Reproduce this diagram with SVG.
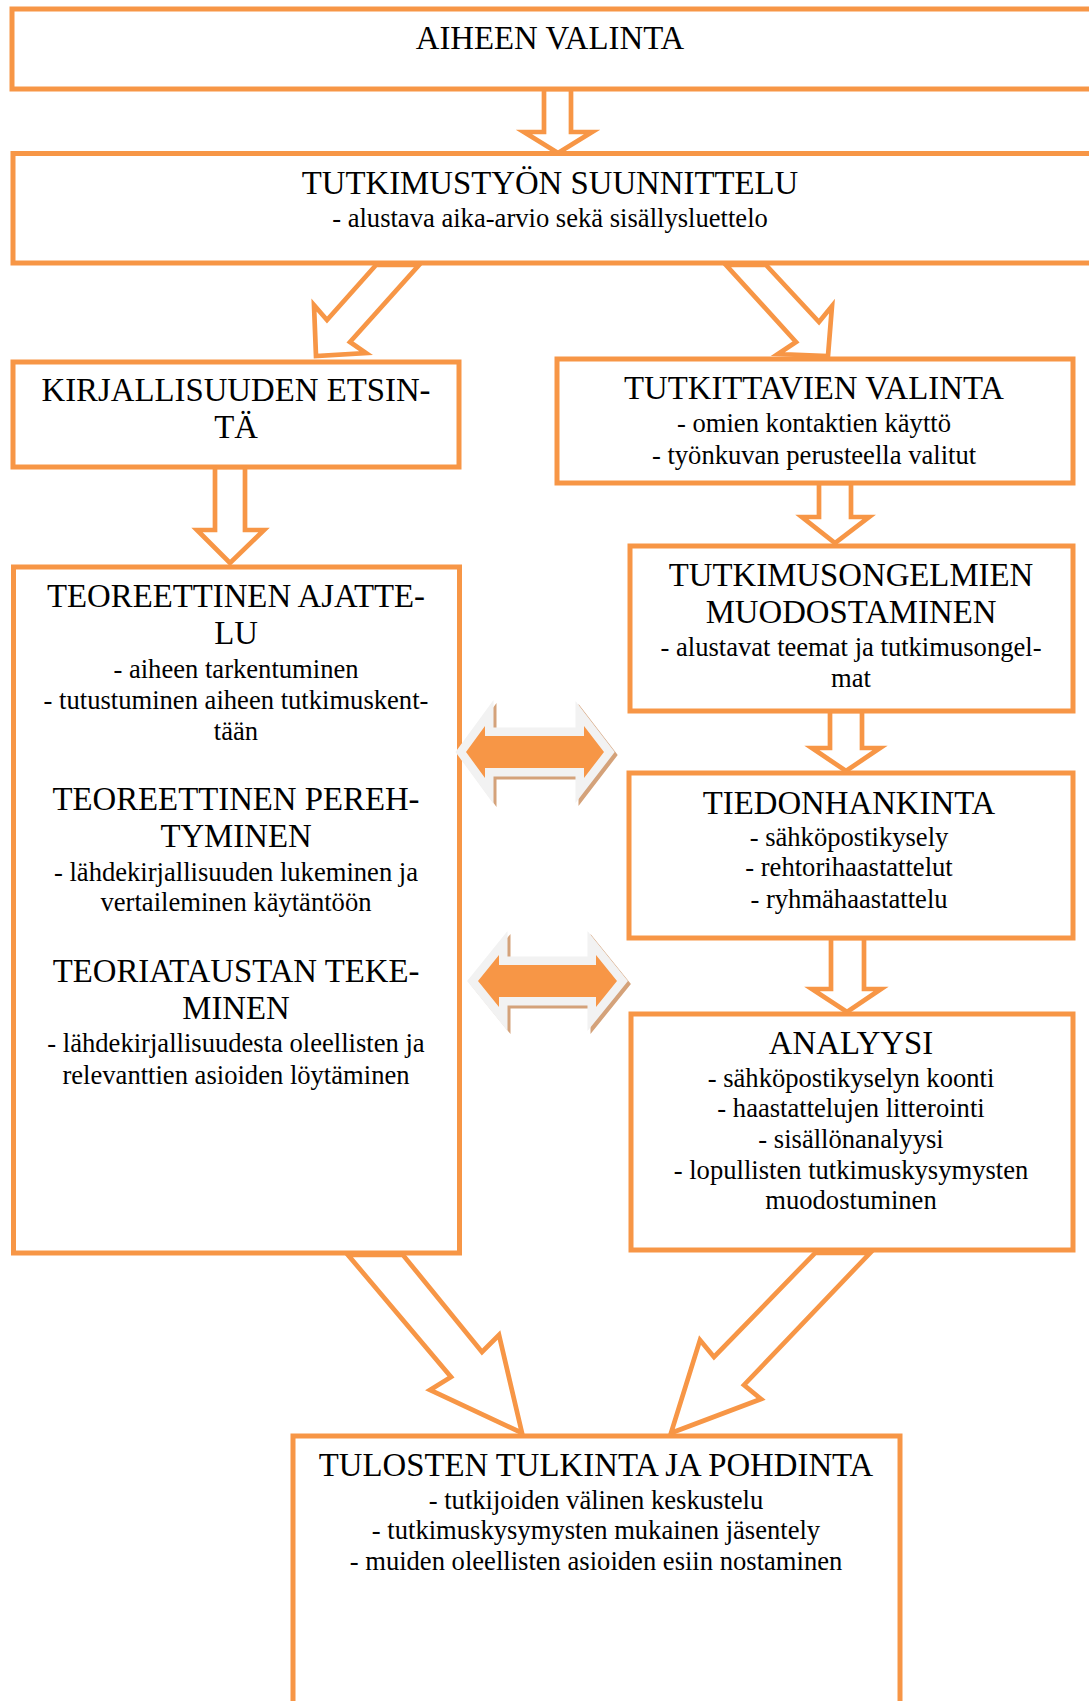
<svg xmlns="http://www.w3.org/2000/svg" width="1089" height="1701" viewBox="0 0 1089 1701">
<style>
.box{fill:#fff;stroke:#F79646;stroke-width:5}
.arr{fill:#fff;stroke:#F79646;stroke-width:4.7;stroke-linejoin:miter}
.dbl{fill:#F79646;stroke:#F2F2F2;stroke-width:17;paint-order:stroke;stroke-linejoin:miter}
.sh{fill:#D4A27A;stroke:#D4A27A;stroke-width:17;stroke-linejoin:miter}
text{font-family:"Liberation Serif","Times New Roman",serif;fill:#000;text-anchor:middle}
.h{font-size:32.8px}
.s{font-size:26.6px}
</style>
<rect width="1089" height="1701" fill="#fff"/>
<g id="connectors">
<polygon class="arr" points="544,89 571,89 571,132 592,132 558,153 524,132 544,132"/>
<polygon class="arr" points="419,265 376,265 327,320 314,305 316,356 366,353 350,342"/>
<polygon class="arr" points="726,265 766,265 819,322 832,306 828,356 778,354 796,342"/>
<polygon class="arr" points="215,467 245,467 245,530 264,530 230,563 197,530 215,530"/>
<polygon class="arr" points="819,483 851,483 851,517 869,517 835,543 802,517 819,517"/>
<polygon class="arr" points="830,711 862,711 862,748 880,748 846,771 812,748 830,748"/>
<polygon class="arr" points="831,938 864,938 864,989 881,989 847,1012 812,989 831,989"/>
<polygon class="arr" points="348,1255 403,1255 482,1352 499,1335 522,1433 430,1390 451,1377"/>
<polygon class="arr" points="870,1253 815,1253 714,1357 700,1340 671,1433 761,1399 744,1385"/>
</g>
<g id="n1"><rect class="box" x="12" y="9" width="1090" height="80"/>
<text class="h" x="550" y="49">AIHEEN VALINTA</text></g>
<g id="n2"><rect class="box" x="13" y="153.5" width="1090" height="109.5"/>
<text class="h" x="550" y="194">TUTKIMUSTYÖN SUUNNITTELU</text>
<text class="s" x="550" y="227">- alustava aika-arvio sekä sisällysluettelo</text></g>
<g id="n3"><rect class="box" x="13" y="362" width="446" height="105"/>
<text class="h" x="236" y="401">KIRJALLISUUDEN ETSIN-</text>
<text class="h" x="236" y="438">TÄ</text></g>
<g id="n4"><rect class="box" x="557" y="359" width="516" height="124"/>
<text class="h" x="814" y="399">TUTKITTAVIEN VALINTA</text>
<text class="s" x="814" y="432">- omien kontaktien käyttö</text>
<text class="s" x="814" y="464">- työnkuvan perusteella valitut</text></g>
<g id="n5"><rect class="box" x="13.5" y="567" width="446" height="686"/>
<text class="h" x="236" y="607">TEOREETTINEN AJATTE-</text>
<text class="h" x="236" y="644">LU</text>
<text class="s" x="236" y="678">- aiheen tarkentuminen</text>
<text class="s" x="236" y="709">- tutustuminen aiheen tutkimuskent-</text>
<text class="s" x="236" y="740">tään</text>
<text class="h" x="236" y="810">TEOREETTINEN PEREH-</text>
<text class="h" x="236" y="847">TYMINEN</text>
<text class="s" x="236" y="881">- lähdekirjallisuuden lukeminen ja</text>
<text class="s" x="236" y="911">vertaileminen käytäntöön</text>
<text class="h" x="236" y="982">TEORIATAUSTAN TEKE-</text>
<text class="h" x="236" y="1019">MINEN</text>
<text class="s" x="236" y="1052">- lähdekirjallisuudesta oleellisten ja</text>
<text class="s" x="236" y="1084">relevanttien asioiden löytäminen</text></g>
<g id="n6"><rect class="box" x="630" y="546" width="443" height="165"/>
<text class="h" x="851" y="586">TUTKIMUSONGELMIEN</text>
<text class="h" x="851" y="623">MUODOSTAMINEN</text>
<text class="s" x="851" y="656">- alustavat teemat ja tutkimusongel-</text>
<text class="s" x="851" y="687">mat</text></g>
<g id="n7"><rect class="box" x="629" y="773" width="444" height="165"/>
<text class="h" x="849" y="814">TIEDONHANKINTA</text>
<text class="s" x="849" y="846">- sähköpostikysely</text>
<text class="s" x="849" y="876">- rehtorihaastattelut</text>
<text class="s" x="849" y="908">- ryhmähaastattelu</text></g>
<g id="n8"><rect class="box" x="631" y="1014" width="442" height="236"/>
<text class="h" x="851" y="1054">ANALYYSI</text>
<text class="s" x="851" y="1087">- sähköpostikyselyn koonti</text>
<text class="s" x="851" y="1117">- haastattelujen litterointi</text>
<text class="s" x="851" y="1148">- sisällönanalyysi</text>
<text class="s" x="851" y="1179">- lopullisten tutkimuskysymysten</text>
<text class="s" x="851" y="1209">muodostuminen</text></g>
<g id="n9"><rect class="box" x="293" y="1436" width="607" height="300"/>
<text class="h" x="596" y="1476">TULOSTEN TULKINTA JA POHDINTA</text>
<text class="s" x="596" y="1509">- tutkijoiden välinen keskustelu</text>
<text class="s" x="596" y="1539">- tutkimuskysymysten mukainen jäsentely</text>
<text class="s" x="596" y="1570">- muiden oleellisten asioiden esiin nostaminen</text></g>
<g id="doubleArrows">
<polygon class="sh" transform="translate(3,3)" points="466,752 485,726 485,736 584,736 584,726 604,752 584,778 584,768 485,768 485,778"/>
<polygon class="dbl" points="466,752 485,726 485,736 584,736 584,726 604,752 584,778 584,768 485,768 485,778"/>
<polygon class="sh" transform="translate(3,3)" points="478,981 499,955 499,965 596,965 596,955 617,981 596,1007 596,997 499,997 499,1007"/>
<polygon class="dbl" points="478,981 499,955 499,965 596,965 596,955 617,981 596,1007 596,997 499,997 499,1007"/>
</g>
</svg>
